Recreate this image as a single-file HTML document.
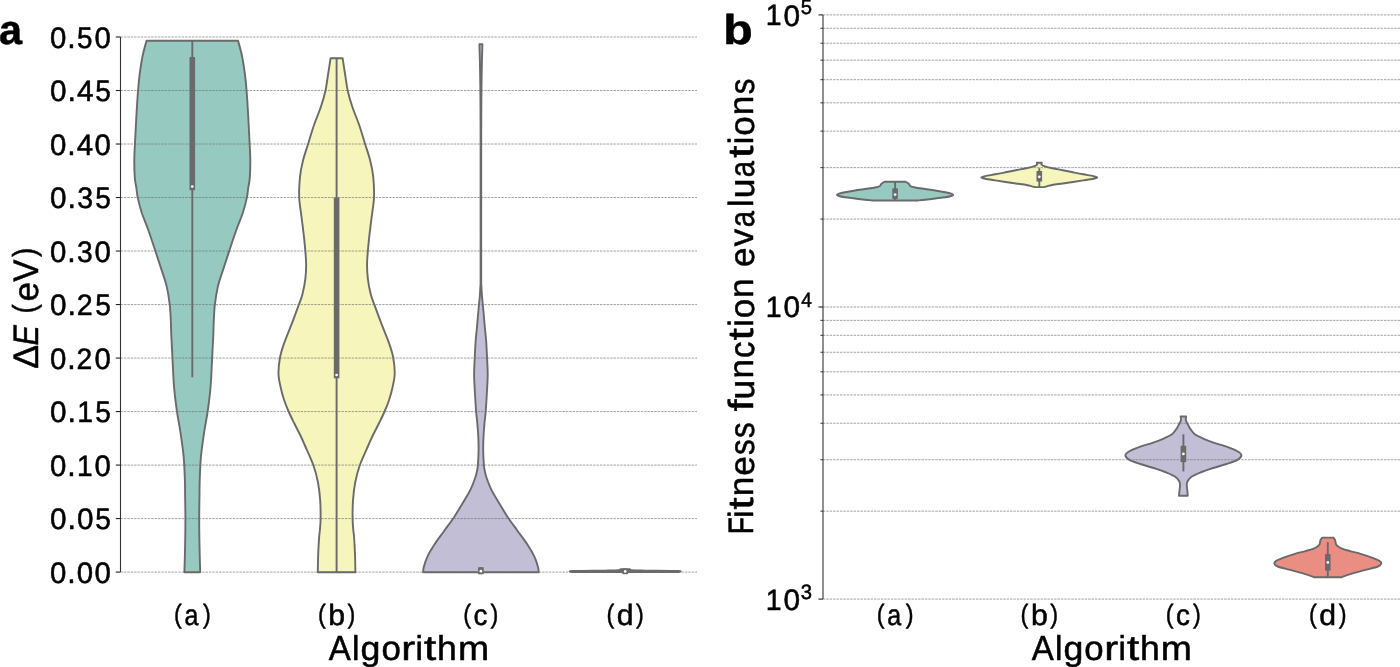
<!DOCTYPE html>
<html><head><meta charset="utf-8"><title>Violin plots</title>
<style>html,body{margin:0;padding:0;background:#fff;overflow:hidden}svg{display:block}
text{font-family:"Liberation Sans",sans-serif;font-kerning:none;text-rendering:geometricPrecision}</style></head>
<body><svg width="1400" height="667" viewBox="0 0 1400 667">
<rect width="1400" height="667" fill="#fff"/>
<path d="M146.50,40.80 L238.10,40.80 C238.75,43.33 240.87,50.47 242.00,56.00 C243.13,61.53 244.15,68.37 244.90,74.00 C245.65,79.63 245.98,83.42 246.50,89.80 C247.02,96.18 247.52,104.05 248.00,112.30 C248.48,120.55 249.02,131.42 249.40,139.30 C249.78,147.18 250.23,153.22 250.30,159.60 C250.37,165.98 250.15,172.83 249.80,177.60 C249.45,182.37 248.68,184.90 248.20,188.20 C247.72,191.50 247.75,193.43 246.90,197.40 C246.05,201.37 244.87,206.57 243.10,212.00 C241.33,217.43 238.63,223.43 236.30,230.00 C233.97,236.57 231.35,244.63 229.10,251.40 C226.85,258.17 224.67,264.77 222.80,270.60 C220.93,276.43 219.22,280.77 217.90,286.40 C216.58,292.03 215.58,298.78 214.90,304.40 C214.22,310.02 214.07,314.97 213.80,320.10 C213.53,325.23 213.57,329.05 213.30,335.20 C213.03,341.35 212.65,348.48 212.20,357.00 C211.75,365.52 211.35,377.28 210.60,386.30 C209.85,395.32 208.75,403.60 207.70,411.10 C206.65,418.60 205.42,423.80 204.30,431.30 C203.18,438.80 201.77,447.95 201.00,456.10 C200.23,464.25 199.95,473.63 199.70,480.20 C199.45,486.77 199.58,489.15 199.50,495.50 C199.42,501.85 199.20,509.92 199.20,518.30 C199.20,526.68 199.33,536.80 199.50,545.80 C199.67,554.80 200.08,567.88 200.20,572.30 L184.40,572.30 C184.52,567.88 184.93,554.80 185.10,545.80 C185.27,536.80 185.40,526.68 185.40,518.30 C185.40,509.92 185.18,501.85 185.10,495.50 C185.02,489.15 185.15,486.77 184.90,480.20 C184.65,473.63 184.37,464.25 183.60,456.10 C182.83,447.95 181.42,438.80 180.30,431.30 C179.18,423.80 177.95,418.60 176.90,411.10 C175.85,403.60 174.75,395.32 174.00,386.30 C173.25,377.28 172.85,365.52 172.40,357.00 C171.95,348.48 171.57,341.35 171.30,335.20 C171.03,329.05 171.07,325.23 170.80,320.10 C170.53,314.97 170.38,310.02 169.70,304.40 C169.02,298.78 168.02,292.03 166.70,286.40 C165.38,280.77 163.67,276.43 161.80,270.60 C159.93,264.77 157.75,258.17 155.50,251.40 C153.25,244.63 150.63,236.57 148.30,230.00 C145.97,223.43 143.27,217.43 141.50,212.00 C139.73,206.57 138.55,201.37 137.70,197.40 C136.85,193.43 136.88,191.50 136.40,188.20 C135.92,184.90 135.15,182.37 134.80,177.60 C134.45,172.83 134.23,165.98 134.30,159.60 C134.37,153.22 134.82,147.18 135.20,139.30 C135.58,131.42 136.12,120.55 136.60,112.30 C137.08,104.05 137.58,96.18 138.10,89.80 C138.62,83.42 138.95,79.63 139.70,74.00 C140.45,68.37 141.47,61.53 142.60,56.00 C143.73,50.47 145.85,43.33 146.50,40.80 Z" fill="#96cac1" stroke="#6a6a6a" stroke-width="1.9" stroke-linejoin="round"/>
<path d="M330.60,58.20 L342.60,58.20 C342.98,60.67 344.03,67.53 344.90,73.00 C345.77,78.47 346.57,85.37 347.80,91.00 C349.03,96.63 350.42,101.17 352.30,106.80 C354.18,112.43 356.97,118.60 359.10,124.80 C361.23,131.00 363.23,137.98 365.10,144.00 C366.97,150.02 368.95,155.47 370.30,160.90 C371.65,166.33 372.58,170.50 373.20,176.60 C373.82,182.70 374.27,190.68 374.00,197.50 C373.73,204.32 372.45,210.42 371.60,217.50 C370.75,224.58 369.65,232.48 368.90,240.00 C368.15,247.52 367.28,256.22 367.10,262.60 C366.92,268.98 367.20,273.05 367.80,278.30 C368.40,283.55 369.57,289.58 370.70,294.10 C371.83,298.62 372.83,300.52 374.60,305.40 C376.37,310.28 378.87,317.03 381.30,323.40 C383.73,329.77 387.22,337.92 389.20,343.60 C391.18,349.28 392.28,352.43 393.20,357.50 C394.12,362.57 394.82,369.00 394.70,374.00 C394.58,379.00 393.43,383.17 392.50,387.50 C391.57,391.83 390.42,396.00 389.10,400.00 C387.78,404.00 386.27,407.67 384.60,411.50 C382.93,415.33 381.03,419.08 379.10,423.00 C377.17,426.92 374.77,431.33 373.00,435.00 C371.23,438.67 370.70,439.97 368.50,445.00 C366.30,450.03 362.02,458.95 359.80,465.20 C357.58,471.45 356.33,476.62 355.20,482.50 C354.07,488.38 353.43,494.50 353.00,500.50 C352.57,506.50 352.55,513.58 352.60,518.50 C352.65,523.42 353.05,526.83 353.30,530.00 C353.55,533.17 353.82,533.50 354.10,537.50 C354.38,541.50 354.78,548.20 355.00,554.00 C355.22,559.80 355.33,569.25 355.40,572.30 L317.80,572.30 C317.87,569.25 317.98,559.80 318.20,554.00 C318.42,548.20 318.82,541.50 319.10,537.50 C319.38,533.50 319.65,533.17 319.90,530.00 C320.15,526.83 320.55,523.42 320.60,518.50 C320.65,513.58 320.63,506.50 320.20,500.50 C319.77,494.50 319.13,488.38 318.00,482.50 C316.87,476.62 315.62,471.45 313.40,465.20 C311.18,458.95 306.90,450.03 304.70,445.00 C302.50,439.97 301.97,438.67 300.20,435.00 C298.43,431.33 296.03,426.92 294.10,423.00 C292.17,419.08 290.27,415.33 288.60,411.50 C286.93,407.67 285.42,404.00 284.10,400.00 C282.78,396.00 281.63,391.83 280.70,387.50 C279.77,383.17 278.62,379.00 278.50,374.00 C278.38,369.00 279.08,362.57 280.00,357.50 C280.92,352.43 282.02,349.28 284.00,343.60 C285.98,337.92 289.47,329.77 291.90,323.40 C294.33,317.03 296.83,310.28 298.60,305.40 C300.37,300.52 301.37,298.62 302.50,294.10 C303.63,289.58 304.80,283.55 305.40,278.30 C306.00,273.05 306.28,268.98 306.10,262.60 C305.92,256.22 305.05,247.52 304.30,240.00 C303.55,232.48 302.45,224.58 301.60,217.50 C300.75,210.42 299.47,204.32 299.20,197.50 C298.93,190.68 299.38,182.70 300.00,176.60 C300.62,170.50 301.55,166.33 302.90,160.90 C304.25,155.47 306.23,150.02 308.10,144.00 C309.97,137.98 311.97,131.00 314.10,124.80 C316.23,118.60 319.02,112.43 320.90,106.80 C322.78,101.17 324.17,96.63 325.40,91.00 C326.63,85.37 327.43,78.47 328.30,73.00 C329.17,67.53 330.22,60.67 330.60,58.20 Z" fill="#f5f5bc" stroke="#6a6a6a" stroke-width="1.9" stroke-linejoin="round"/>
<path d="M479.40,44.30 L482.40,44.30 C482.37,45.58 482.28,49.05 482.20,52.00 C482.12,54.95 481.99,58.17 481.90,62.00 C481.81,65.83 481.72,70.33 481.65,75.00 C481.57,79.67 481.51,84.17 481.45,90.00 C481.39,95.83 481.34,101.67 481.30,110.00 C481.26,118.33 481.22,125.00 481.20,140.00 C481.18,155.00 481.20,177.00 481.20,200.00 C481.20,223.00 481.17,263.67 481.20,278.00 C481.23,292.33 481.28,283.17 481.40,286.00 C481.52,288.83 481.67,291.92 481.90,295.00 C482.13,298.08 482.48,301.17 482.80,304.50 C483.12,307.83 483.47,311.25 483.80,315.00 C484.13,318.75 484.42,322.83 484.80,327.00 C485.18,331.17 485.72,334.75 486.10,340.00 C486.48,345.25 486.83,352.75 487.10,358.50 C487.37,364.25 487.73,368.83 487.70,374.50 C487.67,380.17 487.23,386.33 486.90,392.50 C486.57,398.67 486.05,406.92 485.70,411.50 C485.35,416.08 485.15,416.08 484.80,420.00 C484.45,423.92 483.87,430.00 483.60,435.00 C483.33,440.00 483.15,445.00 483.20,450.00 C483.25,455.00 483.63,461.50 483.90,465.00 C484.17,468.50 484.38,468.97 484.80,471.00 C485.22,473.03 485.33,474.15 486.40,477.20 C487.47,480.25 489.25,485.27 491.20,489.30 C493.15,493.33 495.37,496.80 498.10,501.40 C500.83,506.00 504.37,512.02 507.60,516.90 C510.83,521.78 514.20,526.10 517.50,530.70 C520.80,535.30 524.58,540.18 527.40,544.50 C530.22,548.82 532.63,552.87 534.40,556.60 C536.17,560.33 537.28,564.28 538.00,566.90 C538.72,569.52 538.58,571.40 538.70,572.30 L423.10,572.30 C423.22,571.40 423.08,569.52 423.80,566.90 C424.52,564.28 425.63,560.33 427.40,556.60 C429.17,552.87 431.58,548.82 434.40,544.50 C437.22,540.18 441.00,535.30 444.30,530.70 C447.60,526.10 450.97,521.78 454.20,516.90 C457.43,512.02 460.97,506.00 463.70,501.40 C466.43,496.80 468.65,493.33 470.60,489.30 C472.55,485.27 474.33,480.25 475.40,477.20 C476.47,474.15 476.58,473.03 477.00,471.00 C477.42,468.97 477.63,468.50 477.90,465.00 C478.17,461.50 478.55,455.00 478.60,450.00 C478.65,445.00 478.47,440.00 478.20,435.00 C477.93,430.00 477.35,423.92 477.00,420.00 C476.65,416.08 476.45,416.08 476.10,411.50 C475.75,406.92 475.23,398.67 474.90,392.50 C474.57,386.33 474.13,380.17 474.10,374.50 C474.07,368.83 474.43,364.25 474.70,358.50 C474.97,352.75 475.32,345.25 475.70,340.00 C476.08,334.75 476.62,331.17 477.00,327.00 C477.38,322.83 477.67,318.75 478.00,315.00 C478.33,311.25 478.68,307.83 479.00,304.50 C479.32,301.17 479.67,298.08 479.90,295.00 C480.13,291.92 480.28,288.83 480.40,286.00 C480.52,283.17 480.57,292.33 480.60,278.00 C480.63,263.67 480.60,223.00 480.60,200.00 C480.60,177.00 480.62,155.00 480.60,140.00 C480.58,125.00 480.54,118.33 480.50,110.00 C480.46,101.67 480.41,95.83 480.35,90.00 C480.29,84.17 480.22,79.67 480.15,75.00 C480.07,70.33 479.99,65.83 479.90,62.00 C479.81,58.17 479.68,54.95 479.60,52.00 C479.52,49.05 479.43,45.58 479.40,44.30 Z" fill="#c1bed6" stroke="#6a6a6a" stroke-width="1.9" stroke-linejoin="round"/>
<path d="M620.90,569.10 L629.50,569.10 C629.65,569.20 630.03,569.50 630.40,569.70 C630.77,569.90 629.23,570.15 631.70,570.30 C634.17,570.45 637.45,570.48 645.20,570.60 C652.95,570.72 672.70,570.75 678.20,571.00 C683.70,571.25 678.20,571.92 678.20,572.10 L572.20,572.10 C572.20,571.92 566.70,571.25 572.20,571.00 C577.70,570.75 597.45,570.72 605.20,570.60 C612.95,570.48 616.23,570.45 618.70,570.30 C621.17,570.15 619.63,569.90 620.00,569.70 C620.37,569.50 620.75,569.20 620.90,569.10 Z" fill="#6a6a6a" stroke="#6a6a6a" stroke-width="1.9" stroke-linejoin="round"/>
<path d="M884.60,181.80 L905.60,181.80 C905.90,181.97 906.83,182.43 907.40,182.80 C907.97,183.17 908.45,183.43 909.00,184.00 C909.55,184.57 909.67,185.67 910.70,186.25 C911.73,186.83 912.78,187.04 915.20,187.50 C917.62,187.96 921.87,188.50 925.20,189.00 C928.53,189.50 931.87,189.96 935.20,190.50 C938.53,191.04 942.53,191.73 945.20,192.25 C947.87,192.77 949.85,193.18 951.20,193.60 C952.55,194.02 953.30,194.35 953.30,194.75 C953.30,195.15 952.55,195.58 951.20,196.00 C949.85,196.42 947.87,196.83 945.20,197.25 C942.53,197.67 938.53,198.08 935.20,198.50 C931.87,198.92 928.08,199.42 925.20,199.75 C922.32,200.08 919.12,200.38 917.90,200.50 L872.30,200.50 C871.08,200.38 867.88,200.08 865.00,199.75 C862.12,199.42 858.33,198.92 855.00,198.50 C851.67,198.08 847.67,197.67 845.00,197.25 C842.33,196.83 840.35,196.42 839.00,196.00 C837.65,195.58 836.90,195.15 836.90,194.75 C836.90,194.35 837.65,194.02 839.00,193.60 C840.35,193.18 842.33,192.77 845.00,192.25 C847.67,191.73 851.67,191.04 855.00,190.50 C858.33,189.96 861.67,189.50 865.00,189.00 C868.33,188.50 872.58,187.96 875.00,187.50 C877.42,187.04 878.47,186.83 879.50,186.25 C880.53,185.67 880.65,184.57 881.20,184.00 C881.75,183.43 882.23,183.17 882.80,182.80 C883.37,182.43 884.30,181.97 884.60,181.80 Z" fill="#96cac1" stroke="#6a6a6a" stroke-width="1.9" stroke-linejoin="round"/>
<path d="M1036.80,162.70 L1041.80,162.70 C1041.75,163.02 1040.98,163.98 1041.50,164.60 C1042.02,165.22 1043.05,165.80 1044.90,166.40 C1046.75,167.00 1049.62,167.57 1052.60,168.20 C1055.58,168.83 1059.40,169.52 1062.80,170.20 C1066.20,170.88 1069.60,171.62 1073.00,172.30 C1076.40,172.98 1079.80,173.67 1083.20,174.30 C1086.60,174.93 1091.05,175.58 1093.40,176.10 C1095.75,176.62 1097.30,176.97 1097.30,177.40 C1097.30,177.83 1095.75,178.20 1093.40,178.70 C1091.05,179.20 1086.60,179.85 1083.20,180.40 C1079.80,180.95 1076.40,181.48 1073.00,182.00 C1069.60,182.52 1066.28,183.00 1062.80,183.50 C1059.32,184.00 1054.75,184.53 1052.10,185.00 C1049.45,185.47 1048.27,185.95 1046.90,186.30 C1045.53,186.65 1044.40,186.97 1043.90,187.10 L1034.70,187.10 C1034.20,186.97 1033.07,186.65 1031.70,186.30 C1030.33,185.95 1029.15,185.47 1026.50,185.00 C1023.85,184.53 1019.28,184.00 1015.80,183.50 C1012.32,183.00 1009.00,182.52 1005.60,182.00 C1002.20,181.48 998.80,180.95 995.40,180.40 C992.00,179.85 987.55,179.20 985.20,178.70 C982.85,178.20 981.30,177.83 981.30,177.40 C981.30,176.97 982.85,176.62 985.20,176.10 C987.55,175.58 992.00,174.93 995.40,174.30 C998.80,173.67 1002.20,172.98 1005.60,172.30 C1009.00,171.62 1012.40,170.88 1015.80,170.20 C1019.20,169.52 1023.02,168.83 1026.00,168.20 C1028.98,167.57 1031.85,167.00 1033.70,166.40 C1035.55,165.80 1036.58,165.22 1037.10,164.60 C1037.62,163.98 1036.85,163.02 1036.80,162.70 Z" fill="#f5f5bc" stroke="#6a6a6a" stroke-width="1.9" stroke-linejoin="round"/>
<path d="M1180.60,416.50 L1186.20,416.50 C1186.13,417.10 1185.60,418.93 1185.80,420.10 C1186.00,421.27 1186.65,422.03 1187.40,423.50 C1188.15,424.97 1189.07,427.10 1190.30,428.90 C1191.53,430.70 1192.75,432.73 1194.80,434.30 C1196.85,435.87 1199.58,436.95 1202.60,438.30 C1205.62,439.65 1208.68,440.93 1212.90,442.40 C1217.12,443.87 1223.82,445.63 1227.90,447.10 C1231.98,448.57 1235.15,449.85 1237.40,451.20 C1239.65,452.55 1241.40,453.75 1241.40,455.20 C1241.40,456.65 1239.87,458.43 1237.40,459.90 C1234.93,461.37 1230.65,462.65 1226.60,464.00 C1222.55,465.35 1217.60,466.53 1213.10,468.00 C1208.60,469.47 1203.20,471.33 1199.60,472.80 C1196.00,474.27 1193.53,475.35 1191.50,476.80 C1189.47,478.25 1188.18,480.03 1187.40,481.50 C1186.62,482.97 1186.80,484.02 1186.80,485.60 C1186.80,487.18 1187.23,489.32 1187.40,491.00 C1187.57,492.68 1187.73,494.92 1187.80,495.70 L1179.00,495.70 C1179.07,494.92 1179.23,492.68 1179.40,491.00 C1179.57,489.32 1180.00,487.18 1180.00,485.60 C1180.00,484.02 1180.18,482.97 1179.40,481.50 C1178.62,480.03 1177.33,478.25 1175.30,476.80 C1173.27,475.35 1170.80,474.27 1167.20,472.80 C1163.60,471.33 1158.20,469.47 1153.70,468.00 C1149.20,466.53 1144.25,465.35 1140.20,464.00 C1136.15,462.65 1131.87,461.37 1129.40,459.90 C1126.93,458.43 1125.40,456.65 1125.40,455.20 C1125.40,453.75 1127.15,452.55 1129.40,451.20 C1131.65,449.85 1134.82,448.57 1138.90,447.10 C1142.98,445.63 1149.68,443.87 1153.90,442.40 C1158.12,440.93 1161.18,439.65 1164.20,438.30 C1167.22,436.95 1169.95,435.87 1172.00,434.30 C1174.05,432.73 1175.27,430.70 1176.50,428.90 C1177.73,427.10 1178.65,424.97 1179.40,423.50 C1180.15,422.03 1180.80,421.27 1181.00,420.10 C1181.20,418.93 1180.67,417.10 1180.60,416.50 Z" fill="#c1bed6" stroke="#6a6a6a" stroke-width="1.9" stroke-linejoin="round"/>
<path d="M1322.20,537.60 L1333.40,537.60 C1333.68,538.03 1334.68,539.13 1335.10,540.20 C1335.52,541.27 1335.40,542.93 1335.90,544.00 C1336.40,545.07 1336.98,545.78 1338.10,546.60 C1339.22,547.42 1340.60,548.15 1342.60,548.90 C1344.60,549.65 1346.97,550.23 1350.10,551.10 C1353.23,551.97 1357.65,552.97 1361.40,554.10 C1365.15,555.23 1369.60,556.77 1372.60,557.90 C1375.60,559.03 1377.95,559.97 1379.40,560.90 C1380.85,561.83 1381.55,562.57 1381.30,563.50 C1381.05,564.43 1380.72,565.38 1377.90,566.50 C1375.08,567.62 1369.15,568.88 1364.40,570.20 C1359.65,571.52 1353.20,573.23 1349.40,574.40 C1345.60,575.57 1342.90,576.73 1341.60,577.20 L1314.00,577.20 C1312.70,576.73 1310.00,575.57 1306.20,574.40 C1302.40,573.23 1295.95,571.52 1291.20,570.20 C1286.45,568.88 1280.52,567.62 1277.70,566.50 C1274.88,565.38 1274.55,564.43 1274.30,563.50 C1274.05,562.57 1274.75,561.83 1276.20,560.90 C1277.65,559.97 1280.00,559.03 1283.00,557.90 C1286.00,556.77 1290.45,555.23 1294.20,554.10 C1297.95,552.97 1302.37,551.97 1305.50,551.10 C1308.63,550.23 1311.00,549.65 1313.00,548.90 C1315.00,548.15 1316.38,547.42 1317.50,546.60 C1318.62,545.78 1319.20,545.07 1319.70,544.00 C1320.20,542.93 1320.08,541.27 1320.50,540.20 C1320.92,539.13 1321.92,538.03 1322.20,537.60 Z" fill="#ea8e83" stroke="#6a6a6a" stroke-width="1.9" stroke-linejoin="round"/>
<line x1="120.5" y1="572.10" x2="697" y2="572.10" stroke="#707070" stroke-width="0.65" stroke-dasharray="2.4,1.0"/>
<line x1="120.5" y1="518.59" x2="697" y2="518.59" stroke="#707070" stroke-width="0.65" stroke-dasharray="2.4,1.0"/>
<line x1="120.5" y1="465.08" x2="697" y2="465.08" stroke="#707070" stroke-width="0.65" stroke-dasharray="2.4,1.0"/>
<line x1="120.5" y1="411.57" x2="697" y2="411.57" stroke="#707070" stroke-width="0.65" stroke-dasharray="2.4,1.0"/>
<line x1="120.5" y1="358.06" x2="697" y2="358.06" stroke="#707070" stroke-width="0.65" stroke-dasharray="2.4,1.0"/>
<line x1="120.5" y1="304.55" x2="697" y2="304.55" stroke="#707070" stroke-width="0.65" stroke-dasharray="2.4,1.0"/>
<line x1="120.5" y1="251.04" x2="697" y2="251.04" stroke="#707070" stroke-width="0.65" stroke-dasharray="2.4,1.0"/>
<line x1="120.5" y1="197.53" x2="697" y2="197.53" stroke="#707070" stroke-width="0.65" stroke-dasharray="2.4,1.0"/>
<line x1="120.5" y1="144.02" x2="697" y2="144.02" stroke="#707070" stroke-width="0.65" stroke-dasharray="2.4,1.0"/>
<line x1="120.5" y1="90.51" x2="697" y2="90.51" stroke="#707070" stroke-width="0.65" stroke-dasharray="2.4,1.0"/>
<line x1="120.5" y1="37.00" x2="697" y2="37.00" stroke="#707070" stroke-width="0.65" stroke-dasharray="2.4,1.0"/>
<line x1="823" y1="599.10" x2="1400" y2="599.10" stroke="#707070" stroke-width="0.65" stroke-dasharray="2.4,1.0"/>
<line x1="823" y1="511.17" x2="1400" y2="511.17" stroke="#707070" stroke-width="0.65" stroke-dasharray="2.4,1.0"/>
<line x1="823" y1="459.73" x2="1400" y2="459.73" stroke="#707070" stroke-width="0.65" stroke-dasharray="2.4,1.0"/>
<line x1="823" y1="423.24" x2="1400" y2="423.24" stroke="#707070" stroke-width="0.65" stroke-dasharray="2.4,1.0"/>
<line x1="823" y1="394.93" x2="1400" y2="394.93" stroke="#707070" stroke-width="0.65" stroke-dasharray="2.4,1.0"/>
<line x1="823" y1="371.80" x2="1400" y2="371.80" stroke="#707070" stroke-width="0.65" stroke-dasharray="2.4,1.0"/>
<line x1="823" y1="352.25" x2="1400" y2="352.25" stroke="#707070" stroke-width="0.65" stroke-dasharray="2.4,1.0"/>
<line x1="823" y1="335.31" x2="1400" y2="335.31" stroke="#707070" stroke-width="0.65" stroke-dasharray="2.4,1.0"/>
<line x1="823" y1="320.37" x2="1400" y2="320.37" stroke="#707070" stroke-width="0.65" stroke-dasharray="2.4,1.0"/>
<line x1="823" y1="307.00" x2="1400" y2="307.00" stroke="#707070" stroke-width="0.65" stroke-dasharray="2.4,1.0"/>
<line x1="823" y1="219.07" x2="1400" y2="219.07" stroke="#707070" stroke-width="0.65" stroke-dasharray="2.4,1.0"/>
<line x1="823" y1="167.63" x2="1400" y2="167.63" stroke="#707070" stroke-width="0.65" stroke-dasharray="2.4,1.0"/>
<line x1="823" y1="131.14" x2="1400" y2="131.14" stroke="#707070" stroke-width="0.65" stroke-dasharray="2.4,1.0"/>
<line x1="823" y1="102.83" x2="1400" y2="102.83" stroke="#707070" stroke-width="0.65" stroke-dasharray="2.4,1.0"/>
<line x1="823" y1="79.70" x2="1400" y2="79.70" stroke="#707070" stroke-width="0.65" stroke-dasharray="2.4,1.0"/>
<line x1="823" y1="60.15" x2="1400" y2="60.15" stroke="#707070" stroke-width="0.65" stroke-dasharray="2.4,1.0"/>
<line x1="823" y1="43.21" x2="1400" y2="43.21" stroke="#707070" stroke-width="0.65" stroke-dasharray="2.4,1.0"/>
<line x1="823" y1="28.27" x2="1400" y2="28.27" stroke="#707070" stroke-width="0.65" stroke-dasharray="2.4,1.0"/>
<line x1="823" y1="14.90" x2="1400" y2="14.90" stroke="#707070" stroke-width="0.65" stroke-dasharray="2.4,1.0"/>
<line x1="192.3" y1="40.8" x2="192.3" y2="377.2" stroke="#6a6a6a" stroke-width="1.9" stroke-linecap="butt"/><rect x="189.50" y="57.0" width="5.6" height="133.20" fill="#6a6a6a"/><circle cx="192.3" cy="186.5" r="1.35" fill="#fff"/>
<line x1="336.6" y1="58.2" x2="336.6" y2="572.3" stroke="#6a6a6a" stroke-width="1.9" stroke-linecap="butt"/><rect x="333.80" y="197.5" width="5.6" height="180.80" fill="#6a6a6a"/><circle cx="336.6" cy="375.0" r="1.35" fill="#fff"/>
<line x1="480.9" y1="567.2" x2="480.9" y2="572.3" stroke="#6a6a6a" stroke-width="1.9" stroke-linecap="butt"/><rect x="478.10" y="567.2" width="5.6" height="7.10" fill="#6a6a6a"/><circle cx="480.9" cy="571.2" r="1.35" fill="#fff"/>
<line x1="625.2" y1="568.6" x2="625.2" y2="572.3" stroke="#6a6a6a" stroke-width="1.9" stroke-linecap="butt"/><rect x="622.40" y="568.6" width="5.6" height="5.60" fill="#6a6a6a"/><circle cx="625.2" cy="571.4" r="1.35" fill="#fff"/>
<line x1="895.1" y1="181.5" x2="895.1" y2="200.5" stroke="#6a6a6a" stroke-width="1.9" stroke-linecap="butt"/><rect x="892.30" y="188.3" width="5.6" height="10.60" fill="#6a6a6a"/><circle cx="895.1" cy="194.6" r="1.35" fill="#fff"/>
<line x1="1039.3" y1="168.2" x2="1039.3" y2="187.1" stroke="#6a6a6a" stroke-width="1.9" stroke-linecap="butt"/><rect x="1036.50" y="171.0" width="5.6" height="10.50" fill="#6a6a6a"/><circle cx="1039.3" cy="176.8" r="1.35" fill="#fff"/>
<line x1="1183.4" y1="434.3" x2="1183.4" y2="471.4" stroke="#6a6a6a" stroke-width="1.9" stroke-linecap="butt"/><rect x="1180.60" y="445.8" width="5.6" height="16.30" fill="#6a6a6a"/><circle cx="1183.4" cy="453.9" r="1.35" fill="#fff"/>
<line x1="1327.8" y1="542.1" x2="1327.8" y2="577.2" stroke="#6a6a6a" stroke-width="1.9" stroke-linecap="butt"/><rect x="1325.00" y="554.1" width="5.6" height="16.50" fill="#6a6a6a"/><circle cx="1327.8" cy="562.4" r="1.35" fill="#fff"/>
<line x1="120.5" y1="37.00" x2="120.5" y2="572.10" stroke="#333" stroke-width="1.1"/>
<line x1="115.8" y1="572.10" x2="120.5" y2="572.10" stroke="#222" stroke-width="1.1"/>
<line x1="115.8" y1="518.59" x2="120.5" y2="518.59" stroke="#222" stroke-width="1.1"/>
<line x1="115.8" y1="465.08" x2="120.5" y2="465.08" stroke="#222" stroke-width="1.1"/>
<line x1="115.8" y1="411.57" x2="120.5" y2="411.57" stroke="#222" stroke-width="1.1"/>
<line x1="115.8" y1="358.06" x2="120.5" y2="358.06" stroke="#222" stroke-width="1.1"/>
<line x1="115.8" y1="304.55" x2="120.5" y2="304.55" stroke="#222" stroke-width="1.1"/>
<line x1="115.8" y1="251.04" x2="120.5" y2="251.04" stroke="#222" stroke-width="1.1"/>
<line x1="115.8" y1="197.53" x2="120.5" y2="197.53" stroke="#222" stroke-width="1.1"/>
<line x1="115.8" y1="144.02" x2="120.5" y2="144.02" stroke="#222" stroke-width="1.1"/>
<line x1="115.8" y1="90.51" x2="120.5" y2="90.51" stroke="#222" stroke-width="1.1"/>
<line x1="115.8" y1="37.00" x2="120.5" y2="37.00" stroke="#222" stroke-width="1.1"/>
<line x1="823" y1="14.90" x2="823" y2="599.10" stroke="#333" stroke-width="1.1"/>
<line x1="818.5" y1="599.10" x2="823" y2="599.10" stroke="#222" stroke-width="1.1"/>
<line x1="820.4" y1="511.17" x2="823" y2="511.17" stroke="#222" stroke-width="0.9"/>
<line x1="820.4" y1="459.73" x2="823" y2="459.73" stroke="#222" stroke-width="0.9"/>
<line x1="820.4" y1="423.24" x2="823" y2="423.24" stroke="#222" stroke-width="0.9"/>
<line x1="820.4" y1="394.93" x2="823" y2="394.93" stroke="#222" stroke-width="0.9"/>
<line x1="820.4" y1="371.80" x2="823" y2="371.80" stroke="#222" stroke-width="0.9"/>
<line x1="820.4" y1="352.25" x2="823" y2="352.25" stroke="#222" stroke-width="0.9"/>
<line x1="820.4" y1="335.31" x2="823" y2="335.31" stroke="#222" stroke-width="0.9"/>
<line x1="820.4" y1="320.37" x2="823" y2="320.37" stroke="#222" stroke-width="0.9"/>
<line x1="818.5" y1="307.00" x2="823" y2="307.00" stroke="#222" stroke-width="1.1"/>
<line x1="820.4" y1="219.07" x2="823" y2="219.07" stroke="#222" stroke-width="0.9"/>
<line x1="820.4" y1="167.63" x2="823" y2="167.63" stroke="#222" stroke-width="0.9"/>
<line x1="820.4" y1="131.14" x2="823" y2="131.14" stroke="#222" stroke-width="0.9"/>
<line x1="820.4" y1="102.83" x2="823" y2="102.83" stroke="#222" stroke-width="0.9"/>
<line x1="820.4" y1="79.70" x2="823" y2="79.70" stroke="#222" stroke-width="0.9"/>
<line x1="820.4" y1="60.15" x2="823" y2="60.15" stroke="#222" stroke-width="0.9"/>
<line x1="820.4" y1="43.21" x2="823" y2="43.21" stroke="#222" stroke-width="0.9"/>
<line x1="820.4" y1="28.27" x2="823" y2="28.27" stroke="#222" stroke-width="0.9"/>
<line x1="818.5" y1="14.90" x2="823" y2="14.90" stroke="#222" stroke-width="1.1"/>
<g fill="#000" stroke="#000" stroke-width="0.5" stroke-linejoin="round" style="will-change:transform">
<text transform="translate(50.05,582.75) scale(1.0582,1.0683)" font-size="27.78">0</text>
<text transform="translate(67.33,582.65) scale(1.0862,1.1598)" font-size="27.78">.</text>
<text transform="translate(76.66,582.75) scale(1.0582,1.0683)" font-size="27.78">0</text>
<text transform="translate(94.40,582.75) scale(1.0582,1.0683)" font-size="27.78">0</text>
<text transform="translate(50.04,529.24) scale(1.0689,1.0683)" font-size="27.78">0</text>
<text transform="translate(67.49,529.14) scale(1.0972,1.1598)" font-size="27.78">.</text>
<text transform="translate(76.92,529.24) scale(1.0689,1.0683)" font-size="27.78">0</text>
<text transform="translate(95.19,529.24) scale(1.0088,1.0651)" font-size="27.78">5</text>
<text transform="translate(50.05,475.73) scale(1.0582,1.0683)" font-size="27.78">0</text>
<text transform="translate(67.33,475.63) scale(1.0862,1.1598)" font-size="27.78">.</text>
<text transform="translate(76.89,475.63) scale(1.0106,1.0596)" font-size="27.78">1</text>
<text transform="translate(94.40,475.73) scale(1.0582,1.0683)" font-size="27.78">0</text>
<text transform="translate(50.04,422.22) scale(1.0689,1.0683)" font-size="27.78">0</text>
<text transform="translate(67.49,422.12) scale(1.0972,1.1598)" font-size="27.78">.</text>
<text transform="translate(77.15,422.12) scale(1.0209,1.0596)" font-size="27.78">1</text>
<text transform="translate(95.19,422.22) scale(1.0088,1.0651)" font-size="27.78">5</text>
<text transform="translate(50.05,368.71) scale(1.0582,1.0683)" font-size="27.78">0</text>
<text transform="translate(67.33,368.61) scale(1.0862,1.1598)" font-size="27.78">.</text>
<text transform="translate(76.59,368.61) scale(1.0200,1.0629)" font-size="27.78">2</text>
<text transform="translate(94.40,368.71) scale(1.0582,1.0683)" font-size="27.78">0</text>
<text transform="translate(50.04,315.20) scale(1.0689,1.0683)" font-size="27.78">0</text>
<text transform="translate(67.49,315.10) scale(1.0972,1.1598)" font-size="27.78">.</text>
<text transform="translate(76.84,315.10) scale(1.0303,1.0629)" font-size="27.78">2</text>
<text transform="translate(95.19,315.20) scale(1.0088,1.0651)" font-size="27.78">5</text>
<text transform="translate(50.05,261.69) scale(1.0582,1.0683)" font-size="27.78">0</text>
<text transform="translate(67.33,261.59) scale(1.0862,1.1598)" font-size="27.78">.</text>
<text transform="translate(77.02,261.69) scale(1.0162,1.0683)" font-size="27.78">3</text>
<text transform="translate(94.40,261.69) scale(1.0582,1.0683)" font-size="27.78">0</text>
<text transform="translate(50.04,208.18) scale(1.0689,1.0683)" font-size="27.78">0</text>
<text transform="translate(67.49,208.08) scale(1.0972,1.1598)" font-size="27.78">.</text>
<text transform="translate(77.28,208.18) scale(1.0265,1.0683)" font-size="27.78">3</text>
<text transform="translate(95.19,208.18) scale(1.0088,1.0651)" font-size="27.78">5</text>
<text transform="translate(50.05,154.67) scale(1.0582,1.0683)" font-size="27.78">0</text>
<text transform="translate(67.33,154.57) scale(1.0862,1.1598)" font-size="27.78">.</text>
<text transform="translate(76.65,154.57) scale(1.0583,1.0596)" font-size="27.78">4</text>
<text transform="translate(94.40,154.67) scale(1.0582,1.0683)" font-size="27.78">0</text>
<text transform="translate(50.04,101.16) scale(1.0689,1.0683)" font-size="27.78">0</text>
<text transform="translate(67.49,101.06) scale(1.0972,1.1598)" font-size="27.78">.</text>
<text transform="translate(76.91,101.06) scale(1.0690,1.0596)" font-size="27.78">4</text>
<text transform="translate(95.19,101.16) scale(1.0088,1.0651)" font-size="27.78">5</text>
<text transform="translate(50.05,47.65) scale(1.0582,1.0683)" font-size="27.78">0</text>
<text transform="translate(67.33,47.55) scale(1.0862,1.1598)" font-size="27.78">.</text>
<text transform="translate(77.01,47.65) scale(0.9986,1.0651)" font-size="27.78">5</text>
<text transform="translate(94.40,47.65) scale(1.0582,1.0683)" font-size="27.78">0</text>
<text transform="translate(765.73,609.70) scale(1.0249,1.0596)" font-size="27.78">1</text>
<text transform="translate(783.49,609.80) scale(1.0731,1.0683)" font-size="27.78">0</text>
<text transform="translate(800.83,598.67) scale(1.0412,1.0683)" font-size="19.445999999999998">3</text>
<text transform="translate(765.73,316.90) scale(1.0249,1.0596)" font-size="27.78">1</text>
<text transform="translate(783.49,317.00) scale(1.0731,1.0683)" font-size="27.78">0</text>
<text transform="translate(801.16,306.50) scale(0.9797,1.0596)" font-size="19.445999999999998">4</text>
<text transform="translate(765.73,25.40) scale(1.0249,1.0596)" font-size="27.78">1</text>
<text transform="translate(783.49,25.50) scale(1.0731,1.0683)" font-size="27.78">0</text>
<text transform="translate(800.79,14.47) scale(1.0412,1.0651)" font-size="19.445999999999998">5</text>
<text transform="translate(173.88,622.76) scale(0.8453,0.9560)" font-size="27.78">(</text>
<text transform="translate(184.40,624.71) scale(0.8992,1.0481)" font-size="27.78">a</text>
<text transform="translate(202.90,622.76) scale(0.8453,0.9560)" font-size="27.78">)</text>
<text transform="translate(317.88,622.76) scale(0.8453,0.9560)" font-size="27.78">(</text>
<text transform="translate(328.36,624.71) scale(1.0879,1.0539)" font-size="27.78">b</text>
<text transform="translate(347.50,622.76) scale(0.8453,0.9560)" font-size="27.78">)</text>
<text transform="translate(463.36,622.76) scale(0.8453,0.9560)" font-size="27.78">(</text>
<text transform="translate(473.61,624.71) scale(1.0034,1.0481)" font-size="27.78">c</text>
<text transform="translate(490.62,622.76) scale(0.8453,0.9560)" font-size="27.78">)</text>
<text transform="translate(606.48,622.76) scale(0.8453,0.9560)" font-size="27.78">(</text>
<text transform="translate(616.65,624.71) scale(1.0869,1.0539)" font-size="27.78">d</text>
<text transform="translate(636.10,622.76) scale(0.8453,0.9560)" font-size="27.78">)</text>
<text transform="translate(876.68,622.76) scale(0.8453,0.9560)" font-size="27.78">(</text>
<text transform="translate(887.20,624.71) scale(0.8992,1.0481)" font-size="27.78">a</text>
<text transform="translate(905.70,622.76) scale(0.8453,0.9560)" font-size="27.78">)</text>
<text transform="translate(1020.58,622.76) scale(0.8453,0.9560)" font-size="27.78">(</text>
<text transform="translate(1031.06,624.71) scale(1.0879,1.0539)" font-size="27.78">b</text>
<text transform="translate(1050.20,622.76) scale(0.8453,0.9560)" font-size="27.78">)</text>
<text transform="translate(1165.86,622.76) scale(0.8453,0.9560)" font-size="27.78">(</text>
<text transform="translate(1176.11,624.71) scale(1.0034,1.0481)" font-size="27.78">c</text>
<text transform="translate(1193.12,622.76) scale(0.8453,0.9560)" font-size="27.78">)</text>
<text transform="translate(1309.08,622.76) scale(0.8453,0.9560)" font-size="27.78">(</text>
<text transform="translate(1319.25,624.71) scale(1.0869,1.0539)" font-size="27.78">d</text>
<text transform="translate(1338.70,622.76) scale(0.8453,0.9560)" font-size="27.78">)</text>
<text transform="translate(328.84,660.20) scale(0.9920,1.0437)" font-size="33.33">A</text>
<text transform="translate(351.93,660.20) scale(1.0066,1.0328)" font-size="33.33">l</text>
<text transform="translate(360.53,660.00) scale(1.0703,1.0167)" font-size="33.33">g</text>
<text transform="translate(381.40,660.33) scale(1.0469,1.0324)" font-size="33.33">o</text>
<text transform="translate(401.32,660.20) scale(1.2617,1.0252)" font-size="33.33">r</text>
<text transform="translate(415.47,660.20) scale(1.0066,1.0328)" font-size="33.33">i</text>
<text transform="translate(423.96,659.92) scale(1.3162,1.0570)" font-size="33.33">t</text>
<text transform="translate(437.12,660.20) scale(1.0691,1.0328)" font-size="33.33">h</text>
<text transform="translate(457.91,660.20) scale(1.1220,1.0252)" font-size="33.33">m</text>
<text transform="translate(1031.84,660.20) scale(0.9914,1.0437)" font-size="33.33">A</text>
<text transform="translate(1054.91,660.20) scale(1.0060,1.0328)" font-size="33.33">l</text>
<text transform="translate(1063.51,660.00) scale(1.0696,1.0167)" font-size="33.33">g</text>
<text transform="translate(1084.36,660.33) scale(1.0462,1.0324)" font-size="33.33">o</text>
<text transform="translate(1104.27,660.20) scale(1.2609,1.0252)" font-size="33.33">r</text>
<text transform="translate(1118.42,660.20) scale(1.0060,1.0328)" font-size="33.33">i</text>
<text transform="translate(1126.90,659.92) scale(1.3153,1.0570)" font-size="33.33">t</text>
<text transform="translate(1140.06,660.20) scale(1.0684,1.0328)" font-size="33.33">h</text>
<text transform="translate(1160.83,660.20) scale(1.1213,1.0252)" font-size="33.33">m</text>
<text transform="translate(-1.01,44.06) scale(1.0493,1.0481)" font-size="39.5" font-weight="bold">a</text>
<text transform="translate(723.32,44.05) scale(1.2208,1.0539)" font-size="39.5" font-weight="bold">b</text>
<text transform="translate(37.60,368.67) rotate(-90) scale(1.0756,1.0596)" font-size="33.33">Δ</text>
<text transform="translate(37.60,345.60) rotate(-90) scale(0.9145,1.0596)" font-size="33.33" font-style="italic">E</text>
<text transform="translate(35.40,313.45) rotate(-90) scale(0.8275,0.9560)" font-size="33.33">(</text>
<text transform="translate(37.73,301.52) rotate(-90) scale(1.0574,1.0481)" font-size="33.33">e</text>
<text transform="translate(37.60,281.64) rotate(-90) scale(0.9935,1.0596)" font-size="33.33">V</text>
<text transform="translate(35.40,256.97) rotate(-90) scale(0.8275,0.9560)" font-size="33.33">)</text>
<text transform="translate(753.40,534.30) rotate(-90) scale(0.8416,1.0596)" font-size="33.33">F</text>
<text transform="translate(753.40,517.92) rotate(-90) scale(1.0037,1.0485)" font-size="33.33">i</text>
<text transform="translate(753.12,509.46) rotate(-90) scale(1.3123,1.0731)" font-size="33.33">t</text>
<text transform="translate(753.40,496.22) rotate(-90) scale(1.0586,1.0408)" font-size="33.33">n</text>
<text transform="translate(753.53,475.80) rotate(-90) scale(1.0605,1.0481)" font-size="33.33">e</text>
<text transform="translate(753.53,455.07) rotate(-90) scale(0.9412,1.0509)" font-size="33.33">s</text>
<text transform="translate(753.53,438.02) rotate(-90) scale(0.9412,1.0509)" font-size="33.33">s</text>
<text transform="translate(753.40,411.33) rotate(-90) scale(1.2893,1.0499)" font-size="33.33">f</text>
<text transform="translate(753.52,399.46) rotate(-90) scale(1.0586,1.0672)" font-size="33.33">u</text>
<text transform="translate(753.40,378.58) rotate(-90) scale(1.0586,1.0408)" font-size="33.33">n</text>
<text transform="translate(753.53,358.05) rotate(-90) scale(0.9852,1.0481)" font-size="33.33">c</text>
<text transform="translate(753.12,340.25) rotate(-90) scale(1.3123,1.0731)" font-size="33.33">t</text>
<text transform="translate(753.40,326.79) rotate(-90) scale(1.0037,1.0485)" font-size="33.33">i</text>
<text transform="translate(753.53,318.20) rotate(-90) scale(1.0438,1.0481)" font-size="33.33">o</text>
<text transform="translate(753.40,297.90) rotate(-90) scale(1.0586,1.0408)" font-size="33.33">n</text>
<text transform="translate(753.53,267.08) rotate(-90) scale(1.0605,1.0481)" font-size="33.33">e</text>
<text transform="translate(753.40,246.39) rotate(-90) scale(1.0596,1.0351)" font-size="33.33">v</text>
<text transform="translate(753.53,227.17) rotate(-90) scale(0.8829,1.0481)" font-size="33.33">a</text>
<text transform="translate(753.40,207.00) rotate(-90) scale(1.0037,1.0485)" font-size="33.33">l</text>
<text transform="translate(753.52,198.25) rotate(-90) scale(1.0586,1.0672)" font-size="33.33">u</text>
<text transform="translate(753.53,177.28) rotate(-90) scale(0.8829,1.0481)" font-size="33.33">a</text>
<text transform="translate(753.12,157.72) rotate(-90) scale(1.3123,1.0731)" font-size="33.33">t</text>
<text transform="translate(753.40,144.26) rotate(-90) scale(1.0037,1.0485)" font-size="33.33">i</text>
<text transform="translate(753.53,135.67) rotate(-90) scale(1.0438,1.0481)" font-size="33.33">o</text>
<text transform="translate(753.40,115.36) rotate(-90) scale(1.0586,1.0408)" font-size="33.33">n</text>
<text transform="translate(753.53,94.35) rotate(-90) scale(0.9412,1.0509)" font-size="33.33">s</text>
</g>
</svg></body></html>
